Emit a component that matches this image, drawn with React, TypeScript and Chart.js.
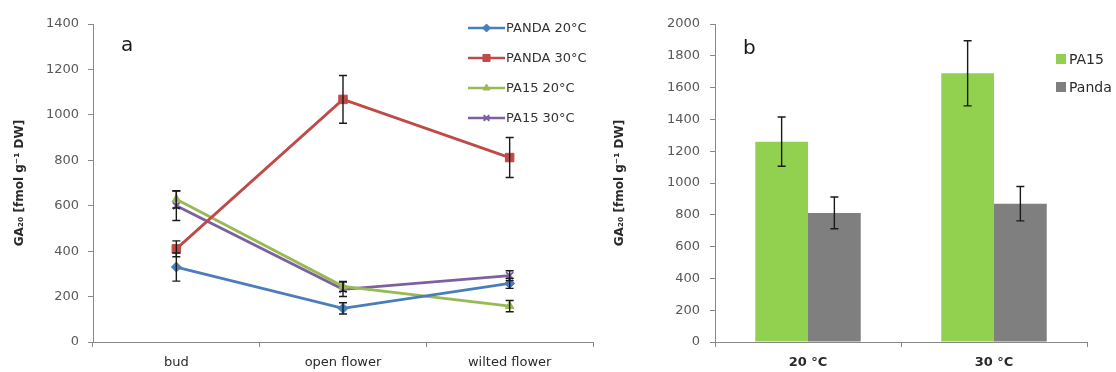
import React, { useEffect, useRef } from 'react';
import { Chart, registerables } from 'chart.js';
import { drawPoint } from 'chart.js/helpers';

Chart.register(...registerables);

const stages = ['bud', 'open flower', 'wilted flower'];
const lineNames = ['PANDA 20°C', 'PANDA 30°C', 'PA15 20°C', 'PA15 30°C'];
const panda20 = [330, 148, 258];
const panda20Err = [62, 25, 22];
const panda30 = [410, 1068, 812];
const panda30Err = [35, 105, 88];
const pa15At20 = [628, 245, 158];
const pa15At20Err = [38, 22, 25];
const pa15At30 = [600, 232, 292];
const pa15At30Err = [65, 32, 22];

const temps = ['20 °C', '30 °C'];
const barNames = ['PA15', 'Panda'];
const pa15Bars = [1260, 1690];
const pa15BarErr = [155, 205];
const pandaBars = [812, 870];
const pandaBarErr = [100, 108];

const FONT = '"DejaVu Sans", sans-serif';
const TICK_COLOR = '#595959';
const AXIS_COLOR = '#888888';
const Y_TITLE = 'GA₂₀ [fmol g⁻¹ DW]';

const plainNumber = (v: any) => String(v);

const errorBars = {
  id: 'errorBars',
  afterDatasetsDraw(chart: any) {
    const ctx = chart.ctx;
    const yScale = chart.scales.y;
    chart.data.datasets.forEach((ds: any, di: number) => {
      const meta = chart.getDatasetMeta(di);
      const errs: number[] = ds.errors || [];
      meta.data.forEach((el: any, i: number) => {
        const v = ds.data[i];
        const e = errs[i];
        if (e == null) return;
        const x = el.x;
        const yTop = yScale.getPixelForValue(v + e);
        const yBot = yScale.getPixelForValue(v - e);
        ctx.save();
        ctx.strokeStyle = '#1a1a1a';
        ctx.lineWidth = 1.4;
        ctx.beginPath();
        ctx.moveTo(x, yTop);
        ctx.lineTo(x, yBot);
        ctx.moveTo(x - 4, yTop);
        ctx.lineTo(x + 4, yTop);
        ctx.moveTo(x - 4, yBot);
        ctx.lineTo(x + 4, yBot);
        ctx.stroke();
        ctx.restore();
      });
    });
  },
};

const lineLegend = {
  id: 'lineLegend',
  afterDraw(chart: any) {
    const ctx = chart.ctx;
    ctx.save();
    ctx.fillStyle = '#1a1a1a';
    ctx.font = `20px ${FONT}`;
    ctx.textBaseline = 'middle';
    ctx.textAlign = 'left';
    ctx.fillText('a', 121, 46);
    chart.data.datasets.forEach((ds: any, i: number) => {
      const y = 28 + i * 30;
      const x0 = 468;
      const x1 = 505;
      ctx.strokeStyle = ds.borderColor;
      ctx.lineWidth = 2.5;
      ctx.beginPath();
      ctx.moveTo(x0, y);
      ctx.lineTo(x1, y);
      ctx.stroke();
      ctx.fillStyle = ds.pointBackgroundColor;
      ctx.strokeStyle = ds.pointBorderColor;
      ctx.lineWidth = ds.pointBorderWidth ?? 1;
      drawPoint(ctx, {
        pointStyle: ds.pointStyle,
        radius: Math.max(3, ds.pointRadius - 1),
        rotation: 0,
        borderWidth: ds.pointBorderWidth ?? 1,
      } as any, (x0 + x1) / 2, y);
      ctx.fillStyle = '#333333';
      ctx.font = `13px ${FONT}`;
      ctx.textAlign = 'left';
      ctx.fillText(ds.label, x1 + 1, y + 1);
    });
    ctx.restore();
  },
};

const barLegend = {
  id: 'barLegend',
  afterDraw(chart: any) {
    const ctx = chart.ctx;
    ctx.save();
    ctx.fillStyle = '#1a1a1a';
    ctx.font = `20px ${FONT}`;
    ctx.textBaseline = 'middle';
    ctx.textAlign = 'left';
    ctx.fillText('b', 143, 49);
    chart.data.datasets.forEach((ds: any, i: number) => {
      const y = 59 + i * 28;
      ctx.fillStyle = ds.backgroundColor;
      ctx.fillRect(456, y - 5, 10, 10);
      ctx.fillStyle = '#2a2a2a';
      ctx.font = `14px ${FONT}`;
      ctx.textAlign = 'left';
      ctx.fillText(ds.label, 469, y + 1);
    });
    ctx.restore();
  },
};

function LineChart() {
  const ref = useRef<HTMLCanvasElement>(null);
  useEffect(() => {
    const colors = ['#4A7EBB', '#BE4B48', '#98B954', '#7D60A0'];
    const styles = ['rectRot', 'rect', 'triangle', 'crossRot'];
    const radii = [5, 6, 5, 5];
    const values = [panda20, panda30, pa15At20, pa15At30];
    const errs = [panda20Err, panda30Err, pa15At20Err, pa15At30Err];
    const chart = new Chart(ref.current!, {
      type: 'line',
      data: {
        labels: stages,
        datasets: lineNames.map((name, i) => ({
          label: name,
          data: values[i],
          errors: errs[i],
          borderColor: colors[i],
          backgroundColor: colors[i],
          pointBackgroundColor: colors[i],
          pointBorderColor: colors[i],
          pointStyle: styles[i],
          pointRadius: radii[i],
          pointBorderWidth: i === 3 ? 2 : 1,
          borderWidth: 2.8,
          tension: 0,
        })) as any,
      },
      options: {
        animation: false,
        responsive: false,
        layout: { padding: { top: 24, right: 7, left: 0, bottom: 0 } },
        plugins: { legend: { display: false }, tooltip: { enabled: false } },
        scales: {
          x: {
            offset: true,
            grid: { offset: true, drawOnChartArea: false, drawTicks: true, tickLength: 5, color: AXIS_COLOR },
            border: { color: AXIS_COLOR },
            ticks: { color: '#2a2a2a', font: { family: FONT, size: 13 }, padding: 8 },
            afterFit(scale: any) { scale.height = 30; },
          },
          y: {
            min: 0,
            max: 1400,
            ticks: { stepSize: 200, color: TICK_COLOR, font: { family: FONT, size: 13 }, padding: 9, callback: plainNumber },
            grid: { drawOnChartArea: false, drawTicks: true, tickLength: 5, color: AXIS_COLOR },
            border: { color: AXIS_COLOR },
            title: {
              display: true,
              text: Y_TITLE,
              color: '#2a2a2a',
              font: { family: FONT, size: 12, weight: 'bold' },
              padding: { top: 13, bottom: 0 },
            },
            afterFit(scale: any) { scale.width = 93; },
          },
        },
      } as any,
      plugins: [errorBars, lineLegend],
    });
    return () => chart.destroy();
  }, []);
  return <canvas ref={ref} width={600} height={372} style={{ display: 'block' }} />;
}

function BarChart() {
  const ref = useRef<HTMLCanvasElement>(null);
  useEffect(() => {
    const chart = new Chart(ref.current!, {
      type: 'bar',
      data: {
        labels: temps,
        datasets: [
          { label: barNames[0], data: pa15Bars, errors: pa15BarErr, backgroundColor: '#92D050' },
          { label: barNames[1], data: pandaBars, errors: pandaBarErr, backgroundColor: '#7F7F7F' },
        ] as any,
      },
      options: {
        animation: false,
        responsive: false,
        layout: { padding: { top: 24, right: 29, left: 0, bottom: 0 } },
        plugins: { legend: { display: false }, tooltip: { enabled: false } },
        datasets: { bar: { categoryPercentage: 0.567, barPercentage: 1 } },
        scales: {
          x: {
            grid: { drawOnChartArea: false, drawTicks: true, tickLength: 5, color: AXIS_COLOR },
            border: { color: AXIS_COLOR },
            ticks: { color: '#2a2a2a', font: { family: FONT, size: 13, weight: 'bold' }, padding: 8 },
            afterFit(scale: any) { scale.height = 30; },
          },
          y: {
            min: 0,
            max: 2000,
            ticks: { stepSize: 200, color: TICK_COLOR, font: { family: FONT, size: 13 }, padding: 10, callback: plainNumber },
            grid: { drawOnChartArea: false, drawTicks: true, tickLength: 5, color: AXIS_COLOR },
            border: { color: AXIS_COLOR },
            title: {
              display: true,
              text: Y_TITLE,
              color: '#2a2a2a',
              font: { family: FONT, size: 12, weight: 'bold' },
              padding: { top: 13, bottom: 0 },
            },
            afterFit(scale: any) { scale.width = 115; },
          },
        },
      } as any,
      plugins: [errorBars, barLegend],
    });
    return () => chart.destroy();
  }, []);
  return <canvas ref={ref} width={516} height={372} style={{ display: 'block' }} />;
}

export default function App() {
  return (
    <div style={{ position: 'fixed', left: 0, top: 0, width: 1116, height: 372, background: '#fff', display: 'flex' }}>
      <LineChart />
      <BarChart />
    </div>
  );
}
